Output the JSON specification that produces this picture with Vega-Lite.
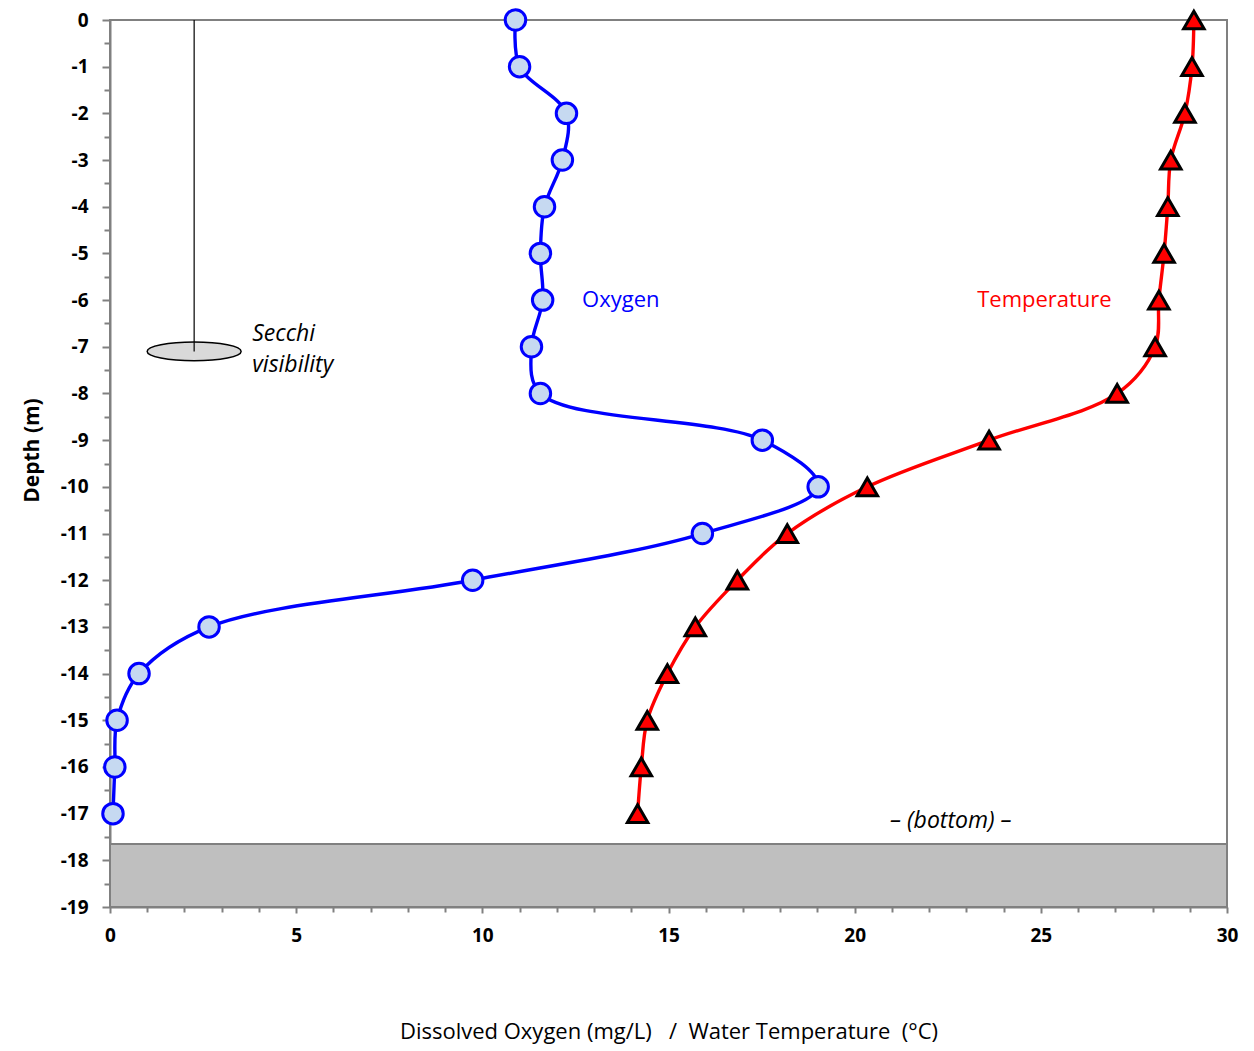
{
  "$schema": "https://vega.github.io/schema/vega-lite/v6.json",
  "width": 1117,
  "height": 887,
  "autosize": "none",
  "padding": {"left": 110, "top": 20, "right": 27, "bottom": 144},
  "config": {
    "font": "Open Sans",
    "view": {"stroke": "#808080", "strokeWidth": 2},
    "axis": {
      "domainColor": "#808080",
      "domainWidth": 2,
      "tickColor": "#808080",
      "tickWidth": 2,
      "grid": false,
      "labelFont": "Open Sans",
      "labelFontWeight": "bold",
      "labelFontSize": 19,
      "labelColor": "#000000",
      "labelFlush": false,
      "titleFont": "Open Sans",
      "titleColor": "#000000"
    }
  },
  "datasets": {
    "oxygen": [
      {"depth": 0, "value": 10.89},
      {"depth": -1, "value": 11.0},
      {"depth": -2, "value": 12.26},
      {"depth": -3, "value": 12.15},
      {"depth": -4, "value": 11.67},
      {"depth": -5, "value": 11.56},
      {"depth": -6, "value": 11.62},
      {"depth": -7, "value": 11.32},
      {"depth": -8, "value": 11.56},
      {"depth": -9, "value": 17.52},
      {"depth": -10, "value": 19.02},
      {"depth": -11, "value": 15.91},
      {"depth": -12, "value": 9.74},
      {"depth": -13, "value": 2.66},
      {"depth": -14, "value": 0.78},
      {"depth": -15, "value": 0.19},
      {"depth": -16, "value": 0.13},
      {"depth": -17, "value": 0.08}
    ],
    "temperature": [
      {"depth": 0, "value": 29.11},
      {"depth": -1, "value": 29.06},
      {"depth": -2, "value": 28.87},
      {"depth": -3, "value": 28.49},
      {"depth": -4, "value": 28.41},
      {"depth": -5, "value": 28.31},
      {"depth": -6, "value": 28.17},
      {"depth": -7, "value": 28.07},
      {"depth": -8, "value": 27.05},
      {"depth": -9, "value": 23.61},
      {"depth": -10, "value": 20.34},
      {"depth": -11, "value": 18.19},
      {"depth": -12, "value": 16.85},
      {"depth": -13, "value": 15.72},
      {"depth": -14, "value": 14.97},
      {"depth": -15, "value": 14.43},
      {"depth": -16, "value": 14.27},
      {"depth": -17, "value": 14.17}
    ],
    "bottom": [
      {"value": 0, "value2": 30, "depth": -17.65, "depth2": -19}
    ],
    "secchi": [
      {"value": 2.26, "depth": -7.1, "top": 0}
    ],
    "labels": [
      {"value": 12.68, "depth": -6.0, "text": "Oxygen", "series": "oxygen"},
      {"value": 23.29, "depth": -6.0, "text": "Temperature", "series": "temperature"}
    ],
    "notes": [
      {"value": 3.82, "depth": -6.72, "text": "Secchi"},
      {"value": 3.82, "depth": -7.4, "text": "visibility"},
      {"value": 20.95, "depth": -17.15, "text": "– (bottom) –"}
    ]
  },
  "encoding": {
    "x": {
      "field": "value",
      "type": "quantitative",
      "scale": {"domain": [0, 30], "nice": false, "zero": false},
      "axis": {
        "orient": "bottom",
        "title": "Dissolved Oxygen (mg/L)\u00a0\u00a0\u00a0/\u00a0\u00a0Water Temperature\u00a0\u00a0(°C)",
        "titleFontWeight": "normal",
        "titleFontSize": 22,
        "titlePadding": 76,
        "values": [0,1,2,3,4,5,6,7,8,9,10,11,12,13,14,15,16,17,18,19,20,21,22,23,24,25,26,27,28,29,30],
        "labelExpr": "datum.value % 5 === 0 ? toString(datum.value) : ''",
        "tickSize": {"condition": {"test": "datum.value % 5 === 0", "value": 6}, "value": 5},
        "labelPadding": 13
      }
    },
    "y": {
      "field": "depth",
      "type": "quantitative",
      "scale": {"domain": [-19, 0], "nice": false, "zero": false},
      "axis": {
        "orient": "left",
        "title": "Depth (m)",
        "titleFontWeight": "bold",
        "titleFontSize": 21,
        "titlePadding": 18,
        "titleY": 430,
        "values": [0,-0.5,-1,-1.5,-2,-2.5,-3,-3.5,-4,-4.5,-5,-5.5,-6,-6.5,-7,-7.5,-8,-8.5,-9,-9.5,-10,-10.5,-11,-11.5,-12,-12.5,-13,-13.5,-14,-14.5,-15,-15.5,-16,-16.5,-17,-17.5,-18,-18.5,-19],
        "labelExpr": "datum.value % 1 === 0 ? toString(datum.value) : ''",
        "tickSize": {"condition": {"test": "datum.value % 1 === 0", "value": 8}, "value": 6},
        "labelPadding": 14
      }
    }
  },
  "layer": [
    {
      "data": {"name": "bottom"},
      "mark": {"type": "rect", "fill": "#bfbfbf", "stroke": "#808080", "strokeWidth": 2},
      "encoding": {
        "x2": {"field": "value2"},
        "y2": {"field": "depth2"}
      }
    },
    {
      "data": {"name": "secchi"},
      "mark": {
        "type": "point",
        "shape": "M-1,0A1,0.2,0,1,0,1,0A1,0.2,0,1,0,-1,0Z",
        "size": 8836,
        "filled": true,
        "fill": "#d9d9d9",
        "fillOpacity": 1,
        "stroke": "#000000",
        "strokeWidth": 1.5
      }
    },
    {
      "data": {"name": "secchi"},
      "mark": {"type": "rule", "color": "#000000", "strokeWidth": 1.2},
      "encoding": {
        "y2": {"field": "top"}
      }
    },
    {
      "data": {"name": "oxygen"},
      "mark": {"type": "line", "color": "#0000ff", "strokeWidth": 3.4, "interpolate": "catmull-rom"},
      "encoding": {"order": {"field": "depth", "type": "quantitative", "sort": "descending"}}
    },
    {
      "data": {"name": "temperature"},
      "mark": {"type": "line", "color": "#ff0000", "strokeWidth": 3.4, "interpolate": "catmull-rom"},
      "encoding": {"order": {"field": "depth", "type": "quantitative", "sort": "descending"}}
    },
    {
      "data": {"name": "oxygen"},
      "mark": {
        "type": "point",
        "shape": "circle",
        "size": 420,
        "filled": true,
        "fill": "#c6d9f1",
        "fillOpacity": 1,
        "stroke": "#0000ff",
        "strokeWidth": 3
      }
    },
    {
      "data": {"name": "temperature"},
      "mark": {
        "type": "point",
        "shape": "triangle-up",
        "size": 420,
        "filled": true,
        "fill": "#ff0000",
        "fillOpacity": 1,
        "stroke": "#000000",
        "strokeWidth": 3
      }
    },
    {
      "data": {"name": "labels"},
      "mark": {"type": "text", "align": "left", "baseline": "middle", "fontSize": 22},
      "encoding": {
        "text": {"field": "text"},
        "color": {
          "field": "series",
          "type": "nominal",
          "scale": {"domain": ["oxygen", "temperature"], "range": ["#0000ff", "#ff0000"]},
          "legend": null
        }
      }
    },
    {
      "data": {"name": "notes"},
      "mark": {"type": "text", "align": "left", "baseline": "middle", "fontSize": 23, "fontStyle": "italic", "color": "#000000"},
      "encoding": {
        "text": {"field": "text"}
      }
    }
  ]
}
